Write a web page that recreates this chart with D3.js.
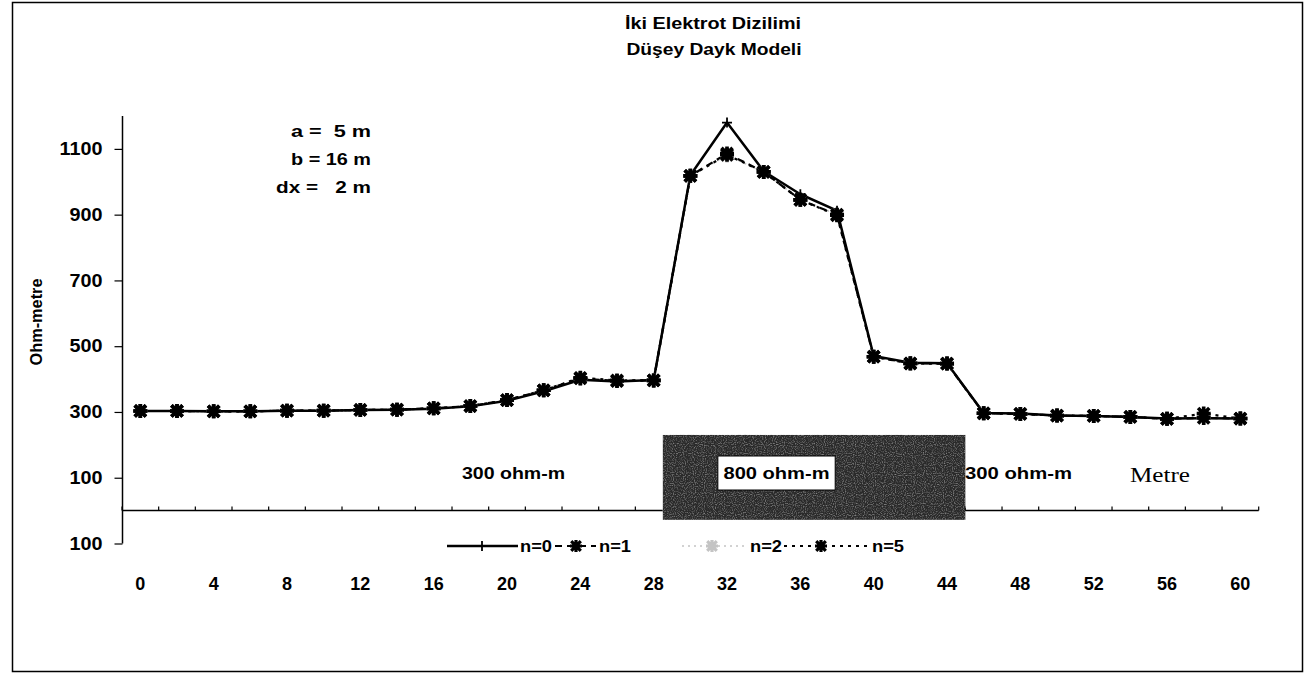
<!DOCTYPE html>
<html>
<head>
<meta charset="utf-8">
<script src="https://cdn.jsdelivr.net/npm/d3@7"></script>
<style>
  html, body { margin: 0; padding: 0; background: #fff; }
  svg { display: block; }
  text { font-family: "Liberation Sans", Arial, sans-serif; fill: #000; }
</style>
</head>
<body>
<svg id="chart" width="1310" height="675"></svg>
<script>
// Electrode positions along the profile (m)
const categories = [0, 2, 4, 6, 8, 10, 12, 14, 16, 18, 20, 22, 24, 26, 28, 30,
                    32, 34, 36, 38, 40, 42, 44, 46, 48, 50, 52, 54, 56, 58, 60];

// Apparent resistivity (ohm-m) for each separation level
const seriesN0 = [303, 303, 302, 302, 304, 304, 306, 307, 310, 317, 334, 363, 398, 393, 397, 1020,
                  1180, 1032, 962, 912, 470, 450, 448, 297, 295, 289, 288, 285, 280, 281, 280];
const seriesN1 = [303, 303, 302, 302, 304, 304, 306, 307, 311, 318, 336, 366, 402, 394, 396, 1018,
                  1086, 1030, 945, 900, 468, 448, 447, 296, 294, 289, 288, 285, 279, 282, 280];
const seriesN2 = [303, 303, 302, 302, 304, 304, 306, 307, 311, 318, 336, 366, 402, 394, 396, 1018,
                  1080, 1030, 945, 900, 468, 448, 447, 296, 294, 289, 288, 285, 279, 282, 280];
const seriesN5 = [303, 303, 302, 302, 304, 304, 306, 307, 311, 318, 336, 366, 404, 396, 396, 1018,
                  1082, 1030, 945, 898, 468, 447, 447, 296, 294, 289, 288, 285, 279, 295, 280];

const seriesNames = ["n=0", "n=1", "n=2", "n=5"];

// Axis ticks
const yTickValues = [-100, 100, 300, 500, 700, 900, 1100];
const yTickLabels = ["100", "100", "300", "500", "700", "900", "1100"];
const xTickLabels = [0, 4, 8, 12, 16, 20, 24, 28, 32, 36, 40, 44, 48, 52, 56, 60];

// Model: dike block extent (x in m, y in ohm-m units of the chart)
const dikeX = [28.5, 45];
const dikeY = [-28, 230];
const modelLabels = ["300 ohm-m", "800 ohm-m", "300 ohm-m"];

const params = ["a =  5 m", "b = 16 m", "dx =   2 m"];
const titleLines = ["İki Elektrot Dizilimi", "Düşey Dayk Modeli"];

const svg = d3.select("#chart");

// Scales
const x = d3.scaleLinear().domain([-1, 61]).range([122, 1258.7]);
const y = d3.scaleLinear().domain([-100, 1200]).range([543.5, 116]);

// grain for the dike block
const defs = svg.append("defs");
const grain = defs.append("filter").attr("id", "grain")
  .attr("x", 0).attr("y", 0).attr("width", 1).attr("height", 1);
grain.append("feTurbulence").attr("type", "fractalNoise")
  .attr("baseFrequency", 0.9).attr("numOctaves", 1).attr("seed", 7);
grain.append("feColorMatrix").attr("type", "matrix")
  .attr("values", "0 0 0 0 0.7  0 0 0 0 0.7  0 0 0 0 0.7  0 0 0 2.4 -1.1");

// stretched text helper (the chart's lettering is set wide)
function label(sel, txt, px, len, opts = {}) {
  const t = sel.append("text").attr("x", opts.x).attr("y", opts.y)
    .attr("text-anchor", opts.anchor || "start")
    .style("font-size", px + "px")
    .style("font-weight", opts.weight || "bold")
    .attr("xml:space", "preserve")
    .text(txt);
  if (opts.family) t.style("font-family", opts.family);
  if (len) t.attr("textLength", len).attr("lengthAdjust", "spacingAndGlyphs");
  if (opts.transform) t.attr("transform", opts.transform);
  return t;
}

// outer frame
svg.append("rect").attr("x", 12.5).attr("y", 2.5).attr("width", 1290).attr("height", 669)
  .attr("fill", "none").attr("stroke", "#000").attr("stroke-width", 1.5);

// titles
label(svg, titleLines[0], 16, 176, { x: 713, y: 29, anchor: "middle" });
label(svg, titleLines[1], 16, 175, { x: 714, y: 55, anchor: "middle" });

// parameters
const paramLen = [80, 80, 95];
params.forEach((p, i) => label(svg, p, 16, paramLen[i], { x: 371, y: 137 + i * 28, anchor: "end" }));

// Y axis
const yAxis = d3.axisLeft(y).tickValues(yTickValues)
  .tickFormat((d, i) => yTickLabels[i]).tickSize(8).tickPadding(12);
const gy = svg.append("g").attr("transform", "translate(122.5,0)").call(yAxis);
gy.select(".domain").attr("d", `M0,${y(1200)}V${y(-100)}`).attr("stroke-width", 1.5);
gy.selectAll(".tick line").attr("stroke-width", 1.2);
gy.selectAll(".tick text").style("font-size", "18px").style("font-weight", "bold")
  .style("font-family", "'Liberation Sans', Arial, sans-serif")
  .attr("textLength", function () { return this.getComputedTextLength() * 1.1; })
  .attr("lengthAdjust", "spacingAndGlyphs");

// Y title
label(svg, "Ohm-metre", 16, 87, { x: 0, y: 0, anchor: "middle", transform: "translate(42,322) rotate(-90)" });

// X axis line at 0 with tick marks between categories
const oddTicks = categories.map(c => c - 1).concat([61]);
const gx = svg.append("g").attr("transform", `translate(0,${y(0)})`);
gx.append("line").attr("x1", x(-1)).attr("x2", x(61)).attr("y1", 0).attr("y2", 0)
  .attr("stroke", "#000").attr("stroke-width", 1.5);
gx.selectAll("line.tk").data(oddTicks).join("line").attr("class", "tk")
  .attr("x1", d => x(d)).attr("x2", d => x(d)).attr("y1", 0).attr("y2", -4)
  .attr("stroke", "#000").attr("stroke-width", 1.2);

// X tick labels (low position)
svg.selectAll("text.xl").data(xTickLabels).join("text").attr("class", "xl")
  .attr("x", d => x(d)).attr("y", 590)
  .attr("text-anchor", "middle")
  .style("font-size", "18px").style("font-weight", "bold")
  .text(d => d);

// model labels
label(svg, modelLabels[0], 16, 103, { x: 462, y: 479 });
label(svg, modelLabels[2], 16, 107, { x: 965, y: 479 });
label(svg, "Metre", 21, 60, { x: 1130, y: 482, weight: "normal",
  family: "'Liberation Serif', 'Times New Roman', serif" });

// dike block
const bx0 = x(dikeX[0]), bx1 = x(dikeX[1]), by0 = y(dikeY[1]), by1 = y(dikeY[0]);
svg.append("rect").attr("x", bx0).attr("y", by0).attr("width", bx1 - bx0).attr("height", by1 - by0)
  .attr("fill", "#2a2a2a");
svg.append("rect").attr("x", bx0).attr("y", by0).attr("width", bx1 - bx0).attr("height", by1 - by0)
  .attr("fill", "#fff").attr("filter", "url(#grain)").attr("opacity", 0.6);

// label inside the dike
const lblX0 = x(31.5), lblX1 = x(37.9);
svg.append("rect").attr("x", lblX0).attr("y", 456).attr("width", lblX1 - lblX0).attr("height", 34)
  .attr("fill", "#fff").attr("stroke", "#000").attr("stroke-width", 1);
label(svg, modelLabels[1], 16, 106, { x: (lblX0 + lblX1) / 2, y: 479, anchor: "middle" });

// series styles
const styles = [
  { name: seriesNames[0], values: seriesN0, color: "#000", width: 2.5, dash: null,  marker: "plus" },
  { name: seriesNames[1], values: seriesN1, color: "#000", width: 2.2, dash: "7,5", marker: "star" },
  { name: seriesNames[2], values: seriesN2, color: "#c4c4c4", width: 1.6, dash: "2,4", marker: "star" },
  { name: seriesNames[3], values: seriesN5, color: "#000", width: 2.2, dash: "3,5", marker: "star" }
];

function markerPath(type, s) {
  if (type === "plus") return `M${-s},0H${s}M0,${-s}V${s}`;
  const d = s * 0.8;
  return `M${-d},${-d}L${d},${d}M${-d},${d}L${d},${-d}M0,${-s}V${s}M${-s},0H${s}`;
}

const line = d3.line().x((d, i) => x(categories[i])).y(d => y(d));
const drawOrder = [2, 3, 1, 0];
drawOrder.forEach(k => {
  const s = styles[k];
  svg.append("path").datum(s.values).attr("d", line)
    .attr("fill", "none").attr("stroke", s.color).attr("stroke-width", s.width)
    .attr("stroke-dasharray", s.dash).attr("stroke-linejoin", "round");
});
drawOrder.forEach(k => {
  const s = styles[k];
  svg.selectAll(null).data(s.values).join("path")
    .attr("transform", (d, i) => `translate(${x(categories[i])},${y(d)})`)
    .attr("d", markerPath(s.marker, s.marker === "plus" ? 5 : 7))
    .attr("fill", "none").attr("stroke", s.color)
    .attr("stroke-width", s.marker === "plus" ? 1.8 : 3.6);
});

// legend
const legendY = 546;
const legendItems = [
  { s: styles[0], x0: 447, x1: 518, mx: 482, tx: 520 },
  { s: styles[1], x0: 555, x1: 596, mx: 576, tx: 599 },
  { s: styles[2], x0: 682, x1: 748, mx: 712, tx: 750 },
  { s: styles[3], x0: 784, x1: 868, mx: 821, tx: 872 }
];
const lg = svg.append("g");
legendItems.forEach(it => {
  lg.append("line").attr("x1", it.x0).attr("x2", it.x1).attr("y1", legendY).attr("y2", legendY)
    .attr("stroke", it.s.color).attr("stroke-width", it.s.width).attr("stroke-dasharray", it.s.dash);
  lg.append("path").attr("transform", `translate(${it.mx},${legendY})`)
    .attr("d", markerPath(it.s.marker, it.s.marker === "plus" ? 5 : 6))
    .attr("fill", "none").attr("stroke", it.s.color)
    .attr("stroke-width", it.s.marker === "plus" ? 1.8 : 3.2);
  label(lg, it.s.name, 16, 32, { x: it.tx, y: legendY + 6 });
});
</script>
</body>
</html>
